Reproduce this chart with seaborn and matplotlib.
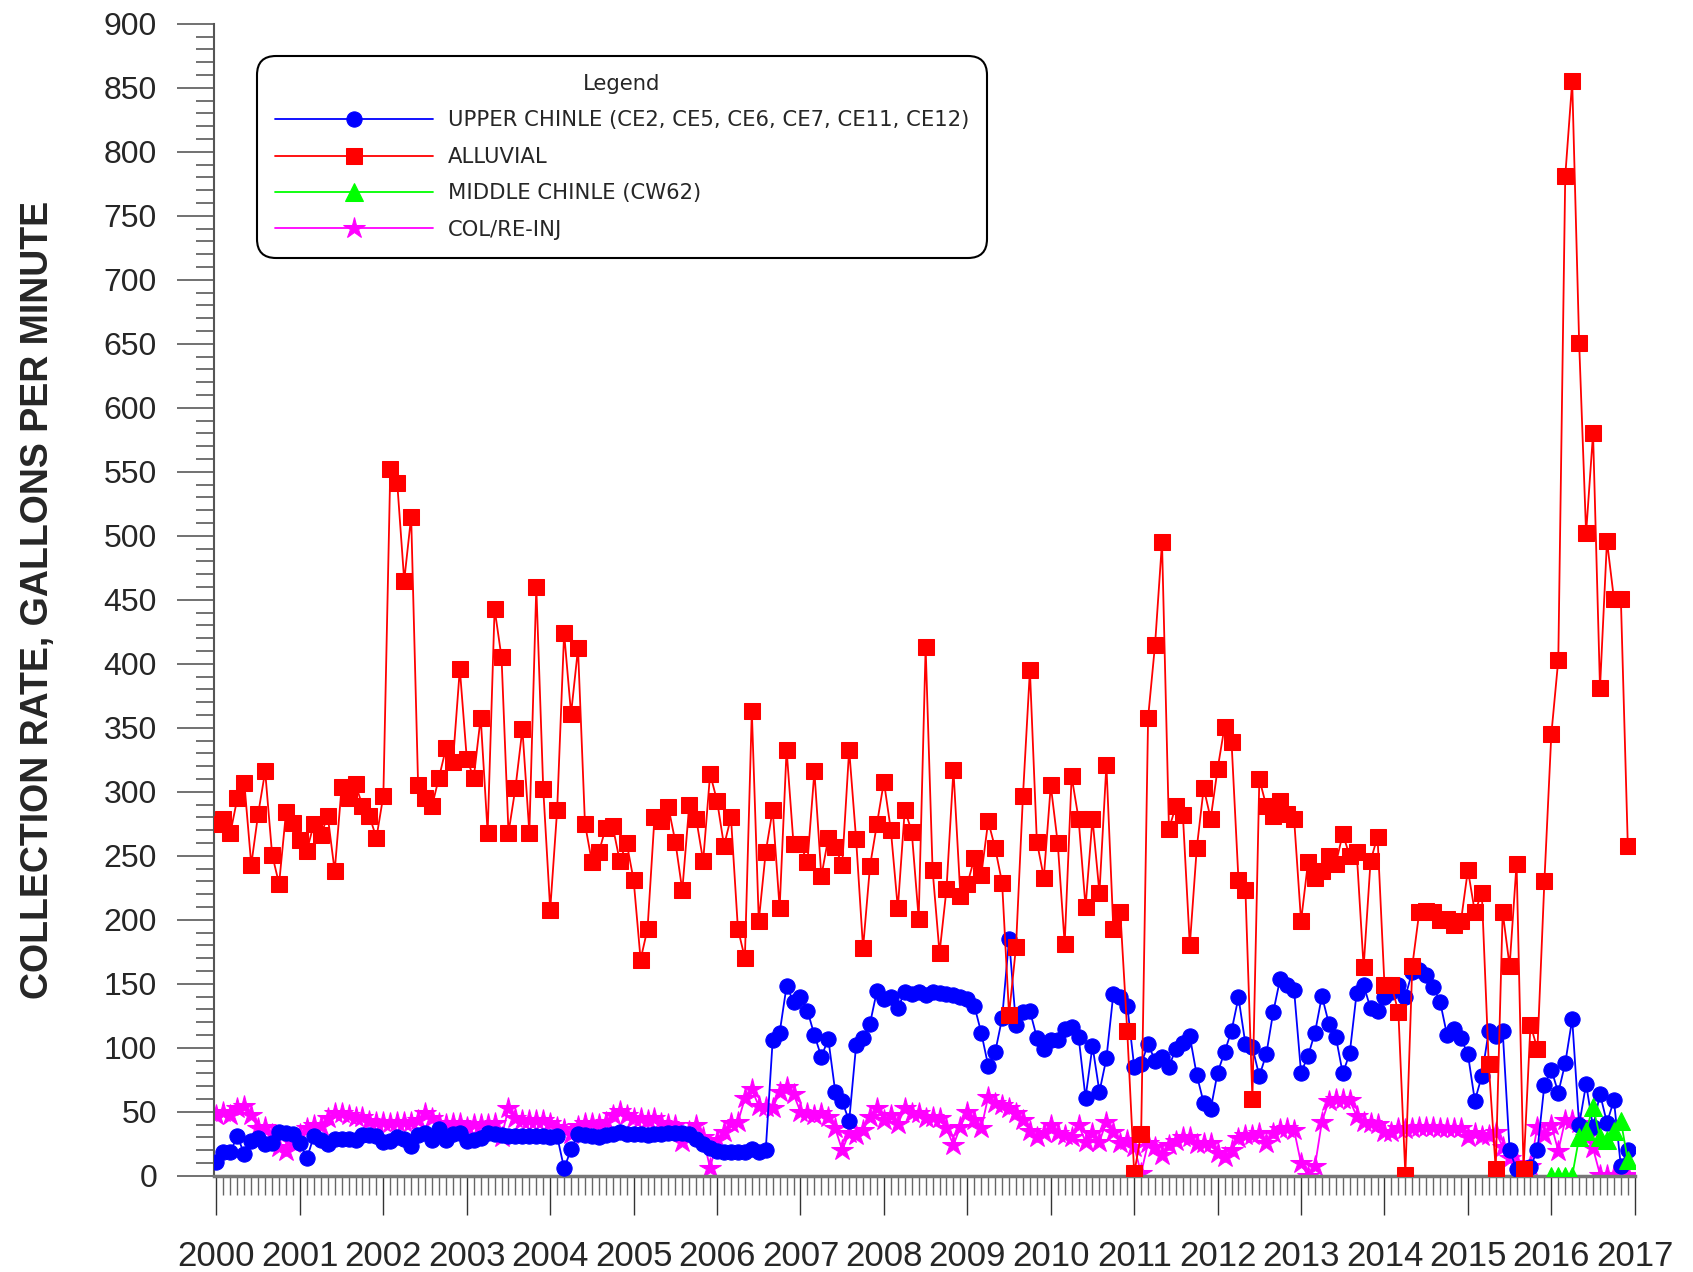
import numpy as np
import pandas as pd
import matplotlib
matplotlib.use("Agg")
import matplotlib.pyplot as plt
from matplotlib.ticker import MultipleLocator, FixedLocator
from matplotlib import font_manager
import seaborn as sns

# Monthly collection rates, Jan 2000 - Dec 2016 (gpm)
alluvial = [
    275, 279, 268, 295, 307, 243, 283, 316, 251, 228, 284, 276,
    262, 254, 275, 266, 281, 238, 304, 295, 306, 289, 281, 264,
    297, 552, 541, 465, 515, 305, 295, 289, 311, 334, 323, 396,
    326, 311, 358, 268, 443, 405, 268, 303, 349, 268, 460, 302,
    208, 286, 424, 361, 412, 275, 245, 253, 272, 273, 246, 260,
    231, 169, 193, 280, 277, 288, 261, 223, 290, 279, 246, 314,
    293, 258, 280, 193, 170, 363, 199, 253, 286, 209, 333, 259,
    259, 245, 316, 234, 264, 257, 243, 333, 263, 178, 242, 275,
    308, 270, 209, 286, 269, 201, 413, 239, 174, 224, 317, 219,
    228, 248, 235, 277, 256, 229, 126, 179, 297, 395, 261, 233,
    305, 260, 181, 312, 279, 210, 279, 221, 321, 193, 206, 113,
    2, 33, 358, 415, 495, 271, 289, 282, 180, 256, 303, 279,
    318, 351, 339, 231, 223, 60, 310, 289, 281, 293, 283, 279,
    199, 245, 233, 238, 250, 244, 267, 250, 253, 163, 246, 265,
    149, 149, 128, 1, 164, 206, 207, 206, 200, 201, 196, 199,
    239, 206, 221, 87, 5, 206, 164, 244, 5, 118, 99, 230,
    345, 403, 781, 855, 651, 502, 580, 381, 496, 451, 451, 258,
]

upper_chinle = [
    10.5, 18.8, 18.8, 31, 17, 27, 29.8, 24.8, 25.4, 34, 33.7, 32.4,
    25.9, 13.6, 31, 28, 24.8, 28.5, 28.5, 29, 28, 31.9, 31.9, 31,
    26.7, 27.5, 30, 28.8, 23.3, 31.9, 33.7, 28, 36.3, 28, 32.6, 33.7,
    27.5, 28, 29.8, 33.7, 32.6, 32, 31.5, 31.5, 31.5, 31.5, 31, 31,
    30.5, 31, 5.8, 20.7, 32.6, 31.9, 31.3, 30.6, 32, 32.6, 34, 32.6,
    32.6, 32.3, 32, 32.6, 33, 33.3, 33.6, 33.6, 33, 29, 25, 21.5,
    19.6, 18.6, 19, 18.6, 19, 20.6, 19, 20, 106, 111.8, 148.3, 136,
    140, 129, 110, 93, 106.9, 65.7, 58.3, 42.8, 101.9, 108, 119, 144.6,
    137.9, 139.4, 130.8, 144, 142, 144, 141, 144, 143, 142, 141, 140,
    138.4, 133, 111.8, 86, 96.6, 123, 185, 117.8, 128, 128.8, 108, 98.8,
    106, 106, 114.4, 116, 108.7, 61, 101.4, 65.7, 91.7, 142, 139.4, 133,
    85.3, 87.3, 103, 90, 92.6, 85.3, 99.3, 103.5, 109, 78.7, 57, 52,
    80.6, 96.7, 113.4, 139.4, 103, 100.4, 78, 95, 128, 154, 149, 145,
    80.6, 93.6, 111.8, 140.5, 119, 108.7, 80, 95.7, 143, 149, 130.8, 129,
    139.4, 144, 149, 140, 159.5, 161, 157, 147.8, 136, 110, 115, 107.4,
    95, 58.7, 78, 113.4, 109, 113.4, 20, 5, 2, 7, 20, 71,
    83, 65, 88, 122.5, 39.7, 71.7, 38, 64, 41.5, 59, 7.6, 20,
]

col_reinj = [
    47.5, 50, 47.5, 52.7, 54.5, 47.5, 37, 38.4, 33, 22.8, 19.6, 25.4,
    33, 37, 39.7, 38.9, 44.9, 48.8, 49.3, 47.5, 46.2, 46.2, 43, 42.3,
    42.3, 41.5, 42.3, 42.3, 42.3, 43.6, 49.3, 44.9, 41.5, 40.5, 41, 41,
    38.4, 40.5, 40.5, 40.5, 41, 30.6, 52.7, 44.9, 43.6, 43.6, 43.6, 43.6,
    41, 38.4, 36.3, 33, 38.9, 41, 41.5, 40.5, 42.3, 47.5, 51, 47.5,
    45.5, 45.5, 44, 44.9, 41.5, 40.5, 39.7, 26.7, 35, 39.7, 30, 5.8,
    28, 34.5, 41, 42, 60.5, 67.5, 54.5, 54, 52.7, 65.7, 69.6, 63.8,
    50, 48.8, 47.5, 48.8, 46, 37, 20, 33.7, 31.9, 35.8, 46, 52.7,
    43.6, 47.5, 40.5, 52.7, 48.8, 48.8, 44.9, 46, 44.9, 37, 24, 38.4,
    50, 43.6, 37, 61.8, 56.6, 55.3, 52.7, 48.8, 43.6, 35.3, 30.6, 33.2,
    39.7, 33.7, 31.9, 30.6, 39.7, 26.7, 33.2, 26.7, 42.3, 34.5, 25.4, 28,
    22.7, 2, 26, 22.7, 16.2, 24, 27.5, 30, 30, 24.8, 25.4, 25.4,
    17.6, 15, 20, 29.3, 31.9, 31.9, 33.2, 25.4, 33.2, 36.3, 37, 35.8,
    9.7, 0, 7.6, 42.3, 58.7, 59.7, 59.7, 59, 46.7, 42.3, 41.5, 40.5,
    34.5, 34.5, 37, 36.3, 37, 37.9, 38.4, 38.4, 37, 37, 37, 37,
    30.6, 33.7, 31.2, 31.9, 34.5, 22.7, 13.6, 10, 3, 8, 38.4, 31.9,
    39.7, 19.6, 43.6, 43.6, 41, 30, 21.5, 1, 1, 1, 1, 1,
]

# Middle Chinle only reported during 2016
middle_chinle = [0, 0, 0, 0, 30, 35, 54, 30, 28, 35, 43, 12]

months = pd.date_range("2000-01-01", "2016-12-01", freq="MS")
t_all = months.year + (months.month - 1) / 12.0
t_mid = t_all[-len(middle_chinle):]

years = list(range(2000, 2018))

# Setup
sns.set_theme(style="white")
plt.rcParams['font.family'] = ['Liberation Sans', 'DejaVu Sans']

names = {f.name for f in font_manager.fontManager.ttflist}
year_font = 'Liberation Sans Narrow' if 'Liberation Sans Narrow' in names else 'Liberation Sans'

fig = plt.figure(figsize=(16.93, 12.72), dpi=100)
ax = fig.add_axes([0.1264, 0.0756, 0.8392, 0.9057])

sns.lineplot(x=t_all, y=col_reinj, ax=ax, color='#ff00ff', marker='*', markersize=16,
             markeredgecolor='#ff00ff', linewidth=1.3, label='COL/RE-INJ', zorder=2)
sns.lineplot(x=t_all, y=upper_chinle, ax=ax, color='#0000ff', marker='o', markersize=11,
             markeredgecolor='#0000ff', linewidth=1.3,
             label='UPPER CHINLE (CE2, CE5, CE6, CE7, CE11, CE12)', zorder=3)
sns.lineplot(x=t_mid, y=middle_chinle, ax=ax, color='#00ff00', marker='^', markersize=13,
             markeredgecolor='#00ff00', linewidth=1.3, label='MIDDLE CHINLE (CW62)', zorder=4)
sns.lineplot(x=t_all, y=alluvial, ax=ax, color='#ff0000', marker='s', markersize=11,
             markeredgecolor='#ff0000', linewidth=1.3, label='ALLUVIAL', zorder=5)

ax.set_xlim(1999.97, 2017.0)
ax.set_ylim(0, 900)

# axes frame
for s in ['top', 'right']:
    ax.spines[s].set_visible(False)
ax.spines['left'].set_color('#555555')
ax.spines['left'].set_linewidth(1.5)
ax.spines['bottom'].set_color('#777777')
ax.spines['bottom'].set_linewidth(2.5)

ax.yaxis.set_major_locator(MultipleLocator(50))
ax.yaxis.set_minor_locator(MultipleLocator(10))
ax.xaxis.set_major_locator(FixedLocator(years))
ax.xaxis.set_minor_locator(FixedLocator(list(t_all)))
ax.set_xticklabels([str(y) for y in years], fontsize=25, family=year_font)
ax.tick_params(axis='y', which='major', direction='out', length=27, width=1.3,
               color='#666666', labelsize=23, pad=14, left=True)
ax.tick_params(axis='y', which='minor', direction='out', length=13, width=1.3,
               color='#666666', left=True)
ax.tick_params(axis='x', which='major', direction='out', length=28, width=1.0,
               color='#333333', pad=18, bottom=True)
ax.tick_params(axis='x', which='minor', direction='out', length=14, width=1.0,
               color='#666666', bottom=True)

ax.set_xlabel('')
ax.set_ylabel('COLLECTION RATE, GALLONS PER MINUTE', fontsize=27, fontweight='bold',
              labelpad=34)

# Legend
handles, labels = ax.get_legend_handles_labels()
order = ['UPPER CHINLE (CE2, CE5, CE6, CE7, CE11, CE12)', 'ALLUVIAL',
         'MIDDLE CHINLE (CW62)', 'COL/RE-INJ']
hmap = dict(zip(labels, handles))
leg = ax.legend([hmap[o] for o in order], order, title='Legend', loc='upper left',
                bbox_to_anchor=(0.030, 0.972), borderaxespad=0, frameon=True,
                prop={'family': 'DejaVu Sans', 'size': 15.2},
                title_fontproperties={'family': 'DejaVu Sans', 'size': 15.2},
                handlelength=7.5, handletextpad=0.7, labelspacing=0.78,
                borderpad=0.85, fancybox=True)
frame = leg.get_frame()
frame.set_edgecolor('black')
frame.set_linewidth(1.5)
frame.set_alpha(1)
frame.set_boxstyle('round,pad=0,rounding_size=0.9')

plt.savefig('out.png', dpi=100)
